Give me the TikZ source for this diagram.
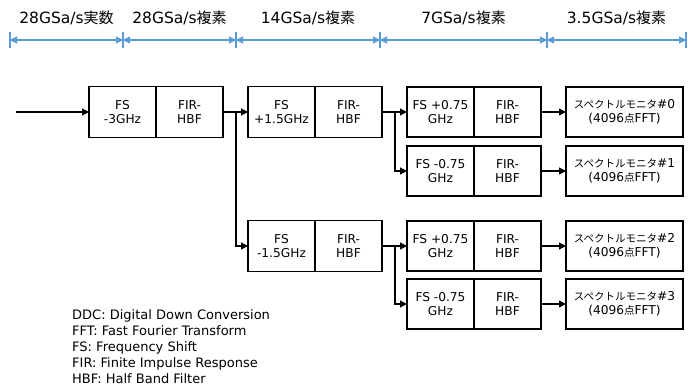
\documentclass[tikz,border=0pt]{standalone}
\usepackage{fontspec}
\setmainfont{DejaVu Sans}
\newfontfamily\jp{Noto Sans CJK JP}
\usetikzlibrary{arrows.meta,positioning}
\definecolor{rateblue}{RGB}{91,155,213}

\newcommand{\jpbox}[1]{{\jp\fontsize{10.5}{13}\selectfont #1}}
\newcommand{\jphead}[1]{{\jp\fontsize{15}{17}\selectfont #1}}

\tikzset{
  cell/.style={rectangle, draw=black, line width=1.2pt, outer sep=0pt, inner sep=0pt,
               align=center, minimum width=67pt, minimum height=51pt, font=\fontsize{12.2}{14}\selectfont},
  monitor/.style={cell, minimum width=117pt, minimum height=50pt},
  flow/.style={-{Triangle[length=7pt,width=7pt]}, line width=1.2pt, black},
  rate/.style={{Triangle[length=7pt,width=7pt]}-{Triangle[length=7pt,width=7pt]}, line width=1.2pt, rateblue},
  ratelbl/.style={text=black, font=\fontsize{15.5}{18}\selectfont, yshift=22pt}
}

\begin{document}
\begin{tikzpicture}[x=1pt, y=-1pt]
  \useasboundingbox (0,0) rectangle (688,388);

  % sample rate ruler
  \foreach \n/\x in {0/10, 1/123, 2/236, 3/380, 4/547, 5/686}
    \coordinate (t\n) at (\x,40);
  \foreach \n in {0,...,5}
    \draw[rateblue, line width=1.2pt] ([yshift=8pt]t\n) -- ([yshift=-8pt]t\n);
  \draw[rate] (t0) -- node[ratelbl] {28GSa/s\jphead{実数}} (t1);
  \draw[rate] (t1) -- node[ratelbl] {28GSa/s\jphead{複素}} (t2);
  \draw[rate] (t2) -- node[ratelbl] {14GSa/s\jphead{複素}} (t3);
  \draw[rate] (t3) -- node[ratelbl] {7GSa/s\jphead{複素}} (t4);
  \draw[rate] (t4) -- node[ratelbl] {3.5GSa/s\jphead{複素}} (t5);

  % DDC stage 1
  \coordinate (in) at (16,112);
  \node[cell, anchor=west] (fs1) at (89,112) {FS\\-3GHz};
  \node[cell, anchor=west] (fir1) at (fs1.east) {FIR-\\HBF};
  \draw[flow] (in) -- (fs1.west);

  % DDC stage 2
  \node[cell, anchor=west] (fs2a) at (248,112) {FS\\+1.5GHz};
  \node[cell, anchor=west] (fir2a) at (fs2a.east) {FIR-\\HBF};
  \node[cell, anchor=west] (fs2b) at (248,246) {FS\\-1.5GHz};
  \node[cell, anchor=west] (fir2b) at (fs2b.east) {FIR-\\HBF};
  \draw[flow] (fir1.east) -- (fs2a.west);
  \draw[flow] (fir1.east) -- ++(13,0) |- (fs2b.west);

  % DDC stage 3 + spectrum monitors
  \foreach \k/\y/\f in {0/112/+0.75, 1/171/-0.75, 2/246/+0.75, 3/304/-0.75} {
    \node[cell, anchor=west, minimum height=50pt] (fs3\k) at (407,\y) {FS \f\\GHz};
    \node[cell, anchor=west, minimum height=50pt] (fir3\k) at (fs3\k.east) {FIR-\\HBF};
    \node[monitor, anchor=west] (mon\k) at (566,\y) {\jpbox{スペクトルモニタ}\#\k\\(4096\jpbox{点}FFT)};
    \draw[flow] (fir3\k.east) -- (mon\k.west);
  }
  \draw[flow] (fir2a.east) -- (fs30.west);
  \draw[flow] (fir2a.east) -- ++(13,0) |- (fs31.west);
  \draw[flow] (fir2b.east) -- (fs32.west);
  \draw[flow] (fir2b.east) -- ++(13,0) |- (fs33.west);

  % abbreviations
  \node[anchor=north west, align=left, inner sep=0pt, font=\fontsize{13}{16}\selectfont] (legend) at (72,309)
    {DDC: Digital Down Conversion\\
     FFT: Fast Fourier Transform\\
     FS: Frequency Shift\\
     FIR: Finite Impulse Response\\
     HBF: Half Band Filter};
\end{tikzpicture}
\end{document}
